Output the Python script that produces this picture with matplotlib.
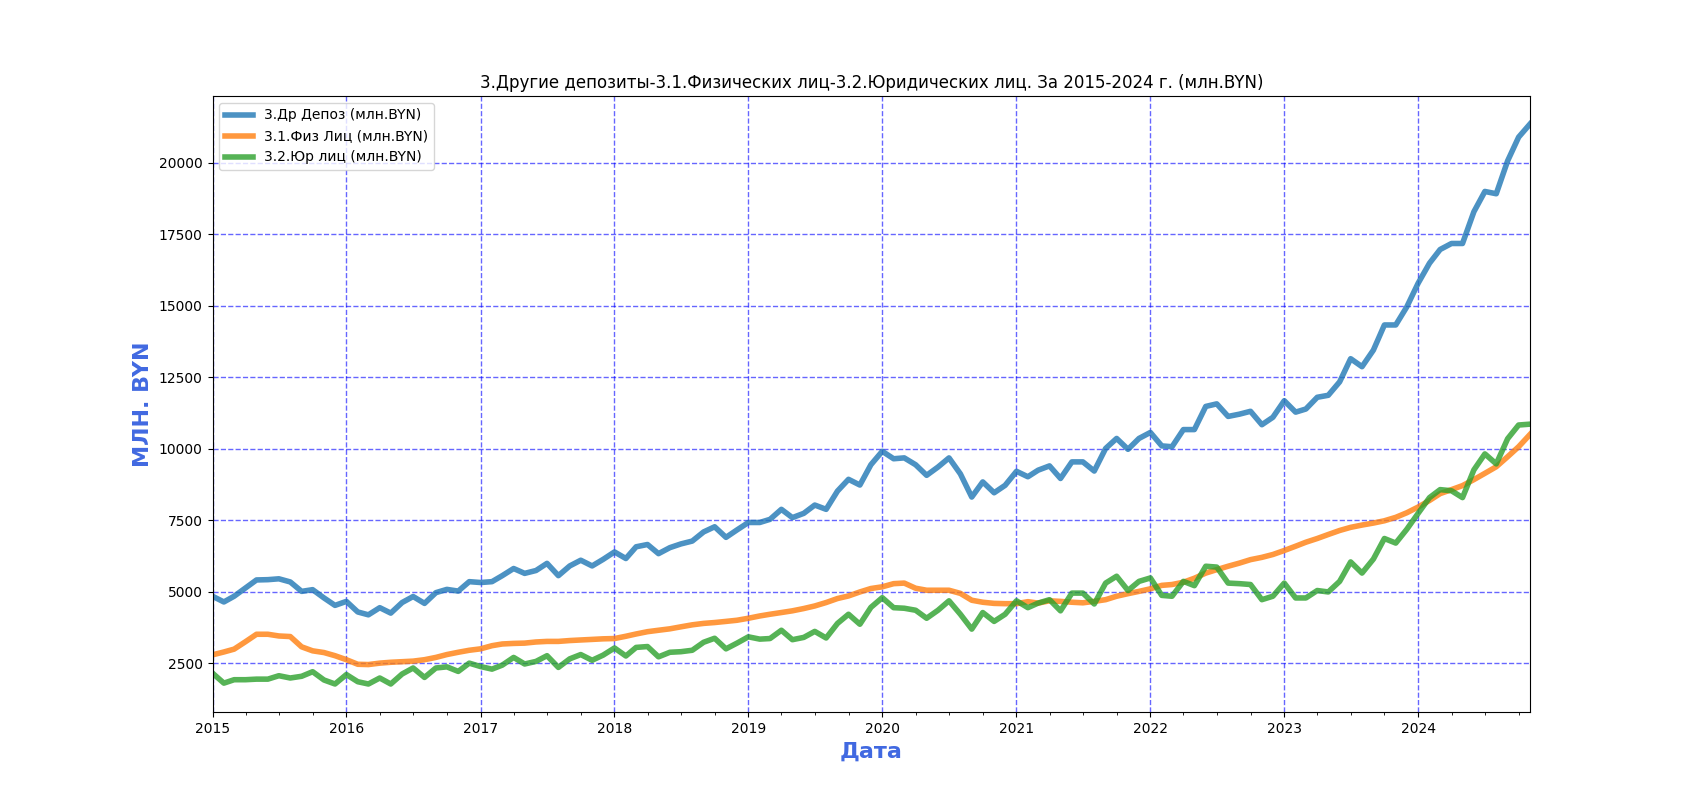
import matplotlib
matplotlib.use("Agg")
import matplotlib.pyplot as plt
import matplotlib.dates as mdates
import pandas as pd


START = "2015-01-01"
N_MONTHS = 119

TITLE = "3.Другие депозиты-3.1.Физических лиц-3.2.Юридических лиц. За 2015-2024 г. (млн.BYN)"
LABELS = ["3.Др Депоз (млн.BYN)", "3.1.Физ Лиц (млн.BYN)", "3.2.Юр лиц (млн.BYN)"]

# monthly values, Jan 2015 .. Nov 2024
other_deposits = [
    4840, 4640, 4840, 5130, 5410, 5420, 5450, 5340, 5010, 5070, 4780, 4520,
    4660, 4290, 4190, 4440, 4250, 4620, 4830, 4590, 4965, 5080, 5020, 5350,
    5320, 5350, 5560, 5810, 5640, 5740, 5990, 5560, 5900, 6100, 5900, 6130,
    6390, 6160, 6570, 6650, 6330, 6540, 6670, 6770, 7090, 7270, 6900, 7160,
    7420, 7420, 7530, 7880, 7590, 7740, 8030, 7880, 8520, 8930, 8730, 9440,
    9910, 9650, 9680, 9440, 9070, 9360, 9680, 9120, 8310, 8840, 8460, 8720,
    9210, 9020, 9250, 9400, 8960, 9540, 9540, 9220, 10010, 10360, 9980, 10360,
    10570, 10100, 10070, 10670, 10670, 11480, 11570, 11130, 11210, 11310, 10840, 11100,
    11680, 11280, 11390, 11800, 11870, 12340, 13150, 12870, 13450, 14330, 14330, 14960,
    15790, 16490, 16970, 17180, 17180, 18290, 19000, 18920, 20070, 20900, 21360,
]

individuals = [
    2790, 2890, 2990, 3250, 3510, 3510, 3450, 3430, 3070, 2930, 2870, 2760,
    2620, 2460, 2450, 2500, 2530, 2550, 2570, 2620, 2700, 2800, 2880, 2950,
    3000, 3110, 3170, 3190, 3200, 3240, 3260, 3260, 3290, 3310, 3330, 3350,
    3360, 3440, 3520, 3600, 3650, 3700, 3770, 3840, 3890, 3920, 3960, 4000,
    4070, 4150, 4210, 4270, 4330, 4410, 4500, 4620, 4760, 4850, 4990, 5110,
    5170, 5280, 5300, 5120, 5050, 5050, 5050, 4940, 4700, 4630, 4590, 4580,
    4580, 4650, 4600, 4680, 4660, 4630, 4610, 4660, 4720, 4840, 4930, 5010,
    5100, 5220, 5250, 5330, 5470, 5650, 5770, 5890, 6000, 6120, 6200, 6300,
    6440, 6590, 6730, 6860, 7000, 7140, 7250, 7330, 7400, 7480, 7600, 7760,
    7960, 8190, 8430, 8570, 8710, 8920, 9140, 9370, 9720, 10070, 10500,
]

legal_entities = [
    2150, 1800, 1920, 1920, 1940, 1940, 2060, 1980, 2040, 2200, 1910, 1770,
    2100, 1850, 1770, 1980, 1770, 2120, 2330, 2000, 2330, 2370, 2210, 2500,
    2380, 2290, 2430, 2700, 2470, 2560, 2760, 2350, 2650, 2800, 2600, 2780,
    3030, 2750, 3050, 3080, 2720, 2880, 2900, 2950, 3230, 3370, 3000, 3200,
    3420, 3340, 3360, 3650, 3320, 3400, 3610, 3380, 3890, 4210, 3860, 4450,
    4790, 4440, 4420, 4350, 4070, 4350, 4680, 4210, 3690, 4270, 3960, 4210,
    4680, 4440, 4600, 4720, 4330, 4950, 4950, 4570, 5300, 5540, 5040, 5360,
    5480, 4870, 4840, 5360, 5210, 5890, 5860, 5300, 5280, 5250, 4720, 4840,
    5300, 4780, 4780, 5040, 4990, 5360, 6040, 5650, 6140, 6860, 6700, 7180,
    7740, 8290, 8570, 8530, 8290, 9260, 9820, 9470, 10350, 10830, 10860,
]


def main():
    dates = pd.date_range(START, periods=N_MONTHS, freq="MS")
    series = [other_deposits, individuals, legal_entities]

    fig, ax = plt.subplots(figsize=(17, 8), dpi=100)
    for values, label in zip(series, LABELS):
        ax.plot(dates, values, linewidth=4, alpha=0.8, label=label)

    ax.set_xlim(dates[0], dates[-1])
    ax.xaxis.set_major_locator(mdates.YearLocator())
    ax.xaxis.set_major_formatter(mdates.DateFormatter("%Y"))
    ax.xaxis.set_minor_locator(mdates.MonthLocator(bymonth=[1, 4, 7, 10]))

    ax.set_title(TITLE, fontsize=12)
    ax.set_xlabel("Дата", fontsize=16, fontweight="bold", color="royalblue")
    ax.set_ylabel("МЛН. BYN", fontsize=16, fontweight="bold", color="royalblue")
    ax.grid(True, color="blue", linestyle="--", alpha=0.6, linewidth=1)
    ax.legend(loc="upper left")

    fig.savefig("out.png")
    plt.close(fig)


if __name__ == "__main__":
    main()
